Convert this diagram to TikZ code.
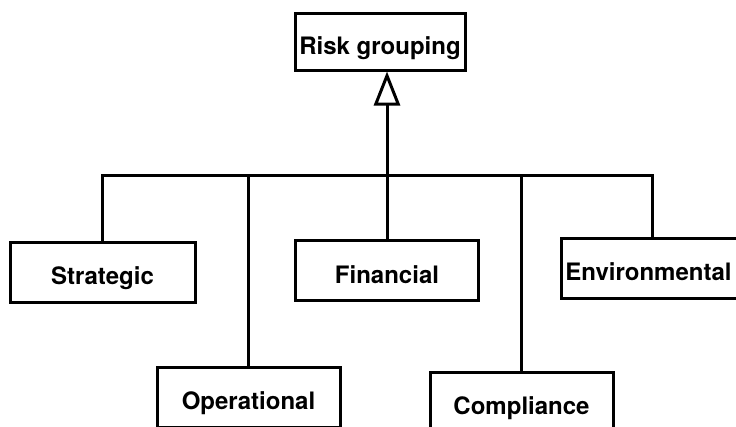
\documentclass[tikz,border=0pt]{standalone}
\usepackage{fontspec}
\setmainfont{TeX Gyre Heros}
\usetikzlibrary{arrows.meta}
\begin{document}
\begin{tikzpicture}[x=1pt,y=-1pt,
  line width=3pt,
  box/.style={draw, line width=3pt, rectangle, inner sep=0pt,
    minimum width=183pt, minimum height=60pt,
    text height=25pt, text depth=0pt,
    font=\fontsize{24}{27}\selectfont\bfseries},
  link/.style={line width=3pt, line join=miter}]
\useasboundingbox (0,0) rectangle (736,426);
\clip (0,0) rectangle (736,426);

% parent
\node[box, minimum width=170pt, minimum height=57pt] (risk) at (380,41.5) {Risk grouping};

% children
\node[box, minimum width=185pt] (strat) at (102.5,272) {Strategic};
\node[box] (oper) at (248.5,397) {Operational};
\node[box] (fin) at (387,270.5) {Financial};
\node[box] (comp) at (521.5,402) {Compliance};
\node[box] (env) at (652.5,268) {\hspace*{-8pt}Environmental};

% horizontal bus
\coordinate (bus) at (102,175);
\draw[link] (strat.north) -- (strat.north |- bus) -| (env.north);
\draw[link] (oper.north) -- (oper.north |- bus);
\draw[link] (fin.north) -- (fin.north |- bus);
\draw[link] (comp.north) -- (comp.north |- bus);

% generalisation arrow to the parent
\draw[link, -{Triangle[open, length=34pt, width=26pt, line width=3pt]}]
  (fin.north |- bus) -- (fin.north |- risk.south);
\end{tikzpicture}
\end{document}
